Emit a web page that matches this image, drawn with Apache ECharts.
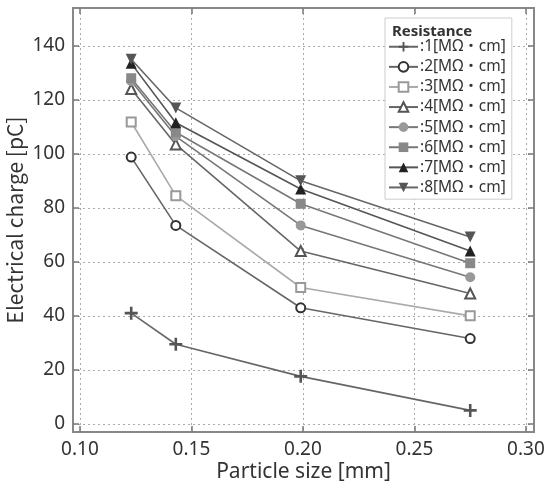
<!DOCTYPE html>
<html>
<head>
<meta charset="utf-8">
<script src="https://cdn.jsdelivr.net/npm/echarts@6/dist/echarts.min.js"></script>
<style>
  html, body { margin: 0; padding: 0; background: #fff; }
  #chart { width: 544px; height: 485px; }
</style>
</head>
<body>
<div id="chart"></div>
<script>
// particle sizes [mm]
const sizes = [0.123, 0.143, 0.199, 0.275]
const xTicks = [0.10, 0.15, 0.20, 0.25, 0.30]
const yTicks = [0, 20, 40, 60, 80, 100, 120, 140]

// electrical charge [pC] per resistance
const r1 = [41, 29.5, 17.6, 5]
const r2 = [98.8, 73.5, 43, 31.6]
const r3 = [111.8, 84.5, 50.5, 40]
const r4 = [124, 103.5, 64, 48.3]
const r5 = [127, 106.5, 73.5, 54.3]
const r6 = [128, 108, 81.5, 59.5]
const r7 = [133.5, 111.5, 87, 64]
const r8 = [135, 117, 90, 69.2]

const names = [':1[MΩ・cm]', ':2[MΩ・cm]', ':3[MΩ・cm]', ':4[MΩ・cm]',
  ':5[MΩ・cm]', ':6[MΩ・cm]', ':7[MΩ・cm]', ':8[MΩ・cm]']

const font = '"Noto Sans", "Noto Sans CJK JP", sans-serif'
const cjk = '"Noto Sans CJK JP", sans-serif'

const chart = echarts.init(document.getElementById('chart'))

function makeSeries (name, values, style) {
  return {
    name: name,
    type: 'line',
    data: values.map((v, i) => [sizes[i], v]),
    symbol: style.symbol,
    symbolSize: style.size,
    symbolRotate: style.rotate || 0,
    lineStyle: { color: style.line, width: 1.6 },
    itemStyle: {
      color: style.fill,
      borderColor: style.border,
      borderWidth: style.bw
    },
    z: style.z
  }
}

const crossPath = 'path://M4,0 L6,0 L6,4 L10,4 L10,6 L6,6 L6,10 L4,10 L4,6 L0,6 L0,4 L4,4 Z'

const series = [
  makeSeries(names[0], r1, { symbol: crossPath, size: 13, line: '#666', fill: '#555', border: '#555', bw: 0, z: 2 }),
  makeSeries(names[1], r2, { symbol: 'circle', size: 9, line: '#666', fill: '#fff', border: '#333', bw: 2, z: 2 }),
  makeSeries(names[2], r3, { symbol: 'rect', size: 9, line: '#aaa', fill: '#fff', border: '#999', bw: 2, z: 2 }),
  makeSeries(names[3], r4, { symbol: 'triangle', size: 10, line: '#666', fill: '#fff', border: '#555', bw: 2, z: 3 }),
  makeSeries(names[4], r5, { symbol: 'circle', size: 10, line: '#777', fill: '#999', border: '#999', bw: 0, z: 3 }),
  makeSeries(names[5], r6, { symbol: 'rect', size: 10, line: '#777', fill: '#888', border: '#888', bw: 0, z: 4 }),
  makeSeries(names[6], r7, { symbol: 'triangle', size: 11, line: '#555', fill: '#222', border: '#222', bw: 0, z: 5 }),
  makeSeries(names[7], r8, { symbol: 'triangle', rotate: 180, size: 11, line: '#666', fill: '#555', border: '#555', bw: 0, z: 6 })
]

const gridLine = { show: true, lineStyle: { color: '#aaa', type: [2, 3], width: 1 } }
const tickIn = { show: true, inside: true, length: 6, lineStyle: { color: '#777', width: 1.5 } }

const option = {
  backgroundColor: '#fff',
  animation: false,
  textStyle: { fontFamily: font },
  title: {
    text: 'Resistance',
    left: 387,
    top: 18,
    textStyle: { fontSize: 15, fontWeight: 'bold', color: '#333', fontFamily: font, lineHeight: 18 }
  },
  legend: {
    data: names,
    orient: 'vertical',
    left: 385,
    top: 18,
    padding: [21, 6, 4, 3],
    itemWidth: 29,
    itemHeight: 12,
    itemGap: 4.6,
    backgroundColor: '#fff',
    borderColor: '#ccc',
    borderWidth: 1,
    textStyle: { fontSize: 15.5, lineHeight: 14, color: '#333', fontFamily: font, padding: [0, 0, 0, -3] }
  },
  grid: {
    left: 73,
    right: 10,
    top: 8,
    bottom: 53,
    outerBoundsMode: 'none',
    containLabel: false,
    show: true,
    borderColor: '#888',
    borderWidth: 2,
    backgroundColor: '#fff'
  },
  xAxis: [{
    type: 'value',
    min: 0.0969,
    max: 0.3036,
    name: 'Particle size [mm]',
    nameLocation: 'middle',
    nameGap: 30,
    nameMoveOverlap: false,
    nameTextStyle: { fontSize: 21, color: '#333', fontFamily: font },
    axisLine: { show: false, onZero: false },
    axisTick: Object.assign({ customValues: xTicks }, tickIn),
    axisLabel: {
      customValues: xTicks,
      formatter: v => v.toFixed(2),
      fontSize: 19,
      color: '#333',
      margin: 8
    },
    splitLine: gridLine
  }, {
    type: 'value',
    position: 'top',
    min: 0.0969,
    max: 0.3036,
    axisLine: { show: false, onZero: false },
    axisTick: Object.assign({ customValues: xTicks }, tickIn),
    axisLabel: { show: false },
    splitLine: { show: false }
  }],
  yAxis: [{
    type: 'value',
    min: -3,
    max: 154,
    name: 'Electrical charge [pC]',
    nameLocation: 'middle',
    nameGap: 47,
    nameMoveOverlap: false,
    nameTextStyle: { fontSize: 21, color: '#333', fontFamily: cjk },
    axisLine: { show: false, onZero: false },
    axisTick: Object.assign({ customValues: yTicks }, tickIn),
    axisLabel: {
      customValues: yTicks,
      fontSize: 19,
      color: '#333',
      margin: 8
    },
    splitLine: gridLine
  }, {
    type: 'value',
    position: 'right',
    min: -3,
    max: 154,
    axisLine: { show: false, onZero: false },
    axisTick: Object.assign({ customValues: yTicks }, tickIn),
    axisLabel: { show: false },
    splitLine: { show: false }
  }],
  series: series
}

chart.setOption(option)
</script>
</body>
</html>
